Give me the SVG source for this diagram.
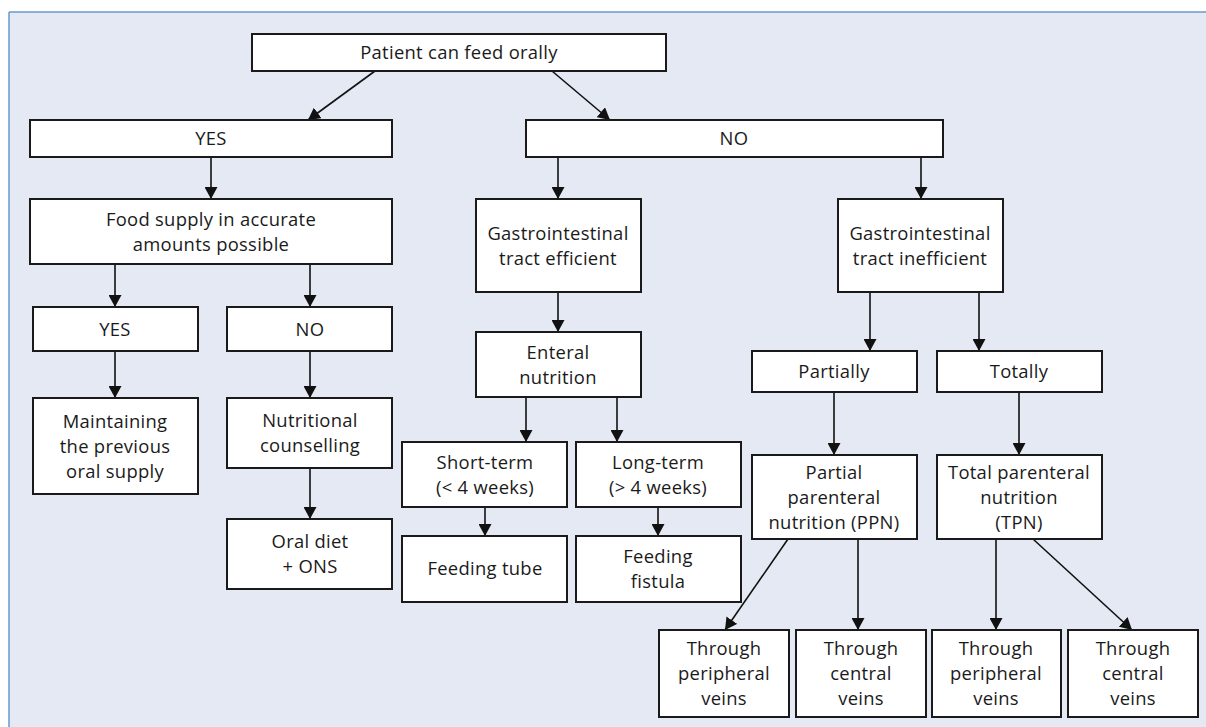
<svg xmlns="http://www.w3.org/2000/svg" width="1206" height="727" viewBox="0 0 1206 727">
<defs>
<style>
.box{fill:#fff;stroke:#1a1a1a;stroke-width:2}
.t{font-family:"Open Sans","Noto Sans","Liberation Sans",sans-serif;font-size:18.4px;letter-spacing:0.3px;fill:#1a1a1a;text-anchor:middle}
.c{stroke:#111;stroke-width:1.6;fill:none;marker-end:url(#ah)}
</style>
<marker id="ah" markerUnits="userSpaceOnUse" markerWidth="13" markerHeight="13" refX="12" refY="6.5" orient="auto">
<path d="M0,0 L12,6.5 L0,13 z" fill="#111"/>
</marker>
</defs>
<rect x="0" y="0" width="1206" height="727" fill="#fff"/>
<rect x="9" y="12" width="1197" height="715" fill="#E5E9F4"/>
<line x1="9" y1="12" x2="1206" y2="12" stroke="#6B97CF" stroke-width="1.5"/>
<line x1="9" y1="12" x2="9" y2="727" stroke="#6B97CF" stroke-width="1.5"/>

<g id="connectors">
<line class="c" x1="375" y1="71" x2="308" y2="120"/>
<line class="c" x1="552" y1="71" x2="610" y2="120"/>
<line class="c" x1="211" y1="157" x2="211" y2="199"/>
<line class="c" x1="558" y1="157" x2="558" y2="199"/>
<line class="c" x1="921" y1="157" x2="921" y2="199"/>
<line class="c" x1="115" y1="264" x2="115" y2="307"/>
<line class="c" x1="310" y1="264" x2="310" y2="307"/>
<line class="c" x1="115" y1="351" x2="115" y2="398"/>
<line class="c" x1="310" y1="351" x2="310" y2="398"/>
<line class="c" x1="310" y1="468" x2="310" y2="519"/>
<line class="c" x1="558" y1="292" x2="558" y2="332"/>
<line class="c" x1="526" y1="397" x2="526" y2="442"/>
<line class="c" x1="617" y1="397" x2="617" y2="442"/>
<line class="c" x1="485" y1="507" x2="485" y2="536"/>
<line class="c" x1="658" y1="507" x2="658" y2="536"/>
<line class="c" x1="870" y1="292" x2="870" y2="351"/>
<line class="c" x1="979" y1="292" x2="979" y2="351"/>
<line class="c" x1="834" y1="392" x2="834" y2="455"/>
<line class="c" x1="1019" y1="392" x2="1019" y2="455"/>
<line class="c" x1="788" y1="539" x2="725" y2="630"/>
<line class="c" x1="858" y1="539" x2="858" y2="630"/>
<line class="c" x1="996" y1="539" x2="996" y2="630"/>
<line class="c" x1="1033" y1="539" x2="1132" y2="630"/>
</g>

<g id="n-root"><rect class="box" x="252" y="34" width="414" height="37"/><text class="t" x="459" y="59">Patient can feed orally</text></g>
<g id="n-yes"><rect class="box" x="30" y="120" width="362" height="37"/><text class="t" x="211" y="145">YES</text></g>
<g id="n-no"><rect class="box" x="526" y="120" width="417" height="37"/><text class="t" x="734" y="145">NO</text></g>
<g id="n-food"><rect class="box" x="30" y="199" width="362" height="65"/><text class="t" x="211" y="225.5">Food supply in accurate</text><text class="t" x="211" y="250.5">amounts possible</text></g>
<g id="n-gie"><rect class="box" x="476" y="199" width="165" height="93"/><text class="t" x="558" y="239.5">Gastrointestinal</text><text class="t" x="558" y="264.5">tract efficient</text></g>
<g id="n-gii"><rect class="box" x="838" y="199" width="165" height="93"/><text class="t" x="920" y="239.5">Gastrointestinal</text><text class="t" x="920" y="264.5">tract inefficient</text></g>
<g id="n-yes2"><rect class="box" x="33" y="307" width="165" height="44"/><text class="t" x="115" y="336">YES</text></g>
<g id="n-no2"><rect class="box" x="227" y="307" width="165" height="44"/><text class="t" x="310" y="336">NO</text></g>
<g id="n-maint"><rect class="box" x="33" y="398" width="165" height="96"/><text class="t" x="115" y="427.5">Maintaining</text><text class="t" x="115" y="452.5">the previous</text><text class="t" x="115" y="477.5">oral supply</text></g>
<g id="n-nutr"><rect class="box" x="227" y="398" width="165" height="70"/><text class="t" x="310" y="427">Nutritional</text><text class="t" x="310" y="452">counselling</text></g>
<g id="n-oral"><rect class="box" x="227" y="519" width="165" height="70"/><text class="t" x="310" y="548">Oral diet</text><text class="t" x="310" y="573">+ ONS</text></g>
<g id="n-enteral"><rect class="box" x="476" y="332" width="165" height="65"/><text class="t" x="558" y="358.5">Enteral</text><text class="t" x="558" y="383.5">nutrition</text></g>
<g id="n-short"><rect class="box" x="402" y="442" width="165" height="65"/><text class="t" x="485" y="468.5">Short-term</text><text class="t" x="485" y="493.5">(&lt; 4 weeks)</text></g>
<g id="n-long"><rect class="box" x="576" y="442" width="165" height="65"/><text class="t" x="658" y="468.5">Long-term</text><text class="t" x="658" y="493.5">(&gt; 4 weeks)</text></g>
<g id="n-tube"><rect class="box" x="402" y="536" width="165" height="66"/><text class="t" x="485" y="575">Feeding tube</text></g>
<g id="n-fistula"><rect class="box" x="576" y="536" width="165" height="66"/><text class="t" x="658" y="563">Feeding</text><text class="t" x="658" y="588">fistula</text></g>
<g id="n-partially"><rect class="box" x="752" y="351" width="165" height="41"/><text class="t" x="834" y="378">Partially</text></g>
<g id="n-totally"><rect class="box" x="937" y="351" width="165" height="41"/><text class="t" x="1019" y="378">Totally</text></g>
<g id="n-ppn"><rect class="box" x="752" y="455" width="165" height="84"/><text class="t" x="834" y="478.5">Partial</text><text class="t" x="834" y="503.5">parenteral</text><text class="t" x="834" y="528.5">nutrition (PPN)</text></g>
<g id="n-tpn"><rect class="box" x="937" y="455" width="165" height="84"/><text class="t" x="1019" y="478.5">Total parenteral</text><text class="t" x="1019" y="503.5">nutrition</text><text class="t" x="1019" y="528.5">(TPN)</text></g>
<g id="n-pp1"><rect class="box" x="659" y="630" width="130" height="87"/><text class="t" x="724" y="655">Through</text><text class="t" x="724" y="680">peripheral</text><text class="t" x="724" y="705">veins</text></g>
<g id="n-cv1"><rect class="box" x="796" y="630" width="130" height="87"/><text class="t" x="861" y="655">Through</text><text class="t" x="861" y="680">central</text><text class="t" x="861" y="705">veins</text></g>
<g id="n-pp2"><rect class="box" x="932" y="630" width="129" height="87"/><text class="t" x="996" y="655">Through</text><text class="t" x="996" y="680">peripheral</text><text class="t" x="996" y="705">veins</text></g>
<g id="n-cv2"><rect class="box" x="1068" y="630" width="130" height="87"/><text class="t" x="1133" y="655">Through</text><text class="t" x="1133" y="680">central</text><text class="t" x="1133" y="705">veins</text></g>
</svg>
